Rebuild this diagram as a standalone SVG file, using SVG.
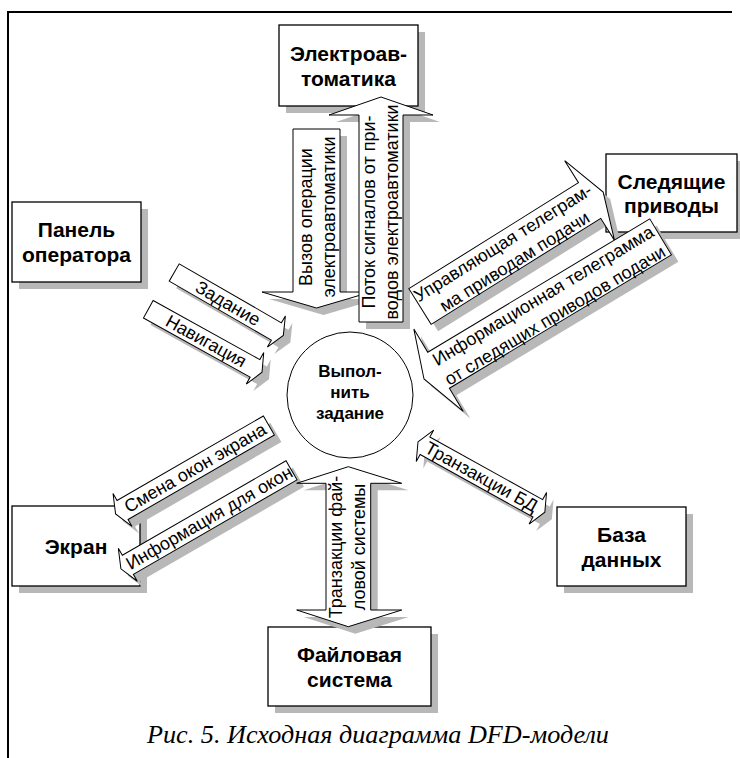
<svg xmlns="http://www.w3.org/2000/svg" width="740" height="758" viewBox="0 0 740 758">
<style>
.box{fill:#fff;stroke:#000;stroke-width:1.3}
.sh{fill:#b8b8b8;stroke:none}
.ar{fill:#fff;stroke:#000;stroke-width:1}
.frame{fill:none;stroke:#000;stroke-width:2}
.nt{font-family:"Liberation Sans",Arial,sans-serif;font-weight:bold;font-size:21px;text-anchor:middle;fill:#000}
.ct{font-family:"Liberation Sans",Arial,sans-serif;font-weight:bold;font-size:17px;text-anchor:middle;fill:#000}
.at{font-family:"Liberation Sans",Arial,sans-serif;font-size:18px;text-anchor:middle;fill:#000}
.cap{font-family:"Liberation Serif","Times New Roman",serif;font-style:italic;font-size:26.2px;text-anchor:middle;fill:#000}
</style>
<rect width="740" height="758" fill="#fff"/>
<path class="frame" d="M8,758 V12 H732"/>

<g id="n-elektro">
<rect class="sh" x="286" y="32" width="139" height="81"/>
<rect class="box" x="279" y="25" width="139" height="81"/>
<text class="nt" x="348.5" y="60.5">Электроав-</text>
<text class="nt" x="348.5" y="85.5">томатика</text>
</g>
<g id="n-sled">
<rect class="sh" x="613" y="161" width="131" height="78"/>
<rect class="box" x="606" y="154" width="131" height="78"/>
<text class="nt" x="671.5" y="189">Следящие</text>
<text class="nt" x="671.5" y="213">приводы</text>
</g>
<g id="n-panel">
<rect class="sh" x="19" y="209" width="129" height="80"/>
<rect class="box" x="12" y="202" width="129" height="80"/>
<text class="nt" x="76.5" y="237">Панель</text>
<text class="nt" x="76.5" y="262">оператора</text>
</g>
<g id="n-ekran">
<rect class="sh" x="19" y="513" width="128" height="80"/>
<rect class="box" x="12" y="506" width="128" height="80"/>
<text class="nt" x="76" y="553.5">Экран</text>
</g>
<g id="n-file">
<rect class="sh" x="275" y="634" width="163" height="79"/>
<rect class="box" x="268" y="627" width="163" height="79"/>
<text class="nt" x="349.5" y="661.5">Файловая</text>
<text class="nt" x="349.5" y="686.5">система</text>
</g>
<g id="n-db">
<rect class="sh" x="564" y="514" width="129" height="79"/>
<rect class="box" x="557" y="507" width="129" height="79"/>
<text class="nt" x="621.5" y="541.5">База</text>
<text class="nt" x="621.5" y="566.5">данных</text>
</g>
<g id="n-process">
<circle cx="350" cy="395" r="63" fill="#fff" stroke="#000" stroke-width="1"/>
<text class="ct" x="350" y="377">Выпол-</text>
<text class="ct" x="350" y="398">нить</text>
<text class="ct" x="350" y="419">задание</text>
</g>

<g id="connectors">
<g id="f-vyzov">
<polygon class="sh" transform="translate(7,7)" points="293,129 340,129 340,292 371,292 316.5,308 262,292 293,292"/>
<polygon class="ar" points="293,129 340,129 340,292 371,292 316.5,308 262,292 293,292"/>
<g transform="translate(316.5,217) rotate(-90)">
<text class="at" x="0" y="-4.5">Вызов операции</text>
<text class="at" x="0" y="18.5">электроавтоматики</text>
</g>
</g>
<g id="f-potok">
<polygon class="sh" transform="translate(7,7)" points="359,322 359,115 329,115 381,97 433,115 403,115 403,322"/>
<polygon class="ar" points="359,322 359,115 329,115 381,97 433,115 403,115 403,322"/>
<g transform="translate(381,212) rotate(-90)">
<text class="at" x="0" y="-6">Поток сигналов от при-</text>
<text class="at" x="0" y="17">водов электроавтоматики</text>
</g>
</g>
<g id="f-upr">
<g transform="translate(427,313.5) rotate(-32)"><polygon class="sh" points="0,-21 200,-21 200,-47 216,0 200,47 200,21 0,21"/></g>
<g transform="translate(420,306.5) rotate(-32)">
<polygon class="ar" points="0,-21 200,-21 200,-47 216,0 200,47 200,21 0,21"/>
<text class="at" x="104" y="-4">Управляющая телеграм-</text>
<text class="at" x="104" y="18">ма приводам подачи</text>
</g>
</g>
<g id="f-inf">
<g transform="translate(431,386) rotate(-31)"><polygon class="sh" points="0,0 17,-48 17,-21 276,-21 276,21 17,21 17,48"/></g>
<g transform="translate(424,379) rotate(-31)">
<polygon class="ar" points="0,0 17,-48 17,-21 276,-21 276,21 17,21 17,48"/>
<text class="at" x="145" y="-4">Информационная телеграмма</text>
<text class="at" x="145" y="19">от следящих приводов подачи</text>
</g>
</g>
<g id="f-zad">
<g transform="translate(181.2,279.5) rotate(30)"><polygon class="sh" points="0,-10 118,-10 118,-18 126,0 118,18 118,10 0,10"/></g>
<g transform="translate(174.2,272.5) rotate(30)">
<polygon class="ar" points="0,-10 118,-10 118,-18 126,0 118,18 118,10 0,10"/>
<text class="at" x="62" y="6">Задание</text>
</g>
</g>
<g id="f-nav">
<g transform="translate(155.3,316.2) rotate(29)"><polygon class="sh" points="0,-10 122,-10 122,-18 130,0 122,18 122,10 0,10"/></g>
<g transform="translate(148.3,309.2) rotate(29)">
<polygon class="ar" points="0,-10 122,-10 122,-18 130,0 122,18 122,10 0,10"/>
<text class="at" x="66" y="6">Навигация</text>
</g>
</g>
<g id="f-smena">
<g transform="translate(122.6,521) rotate(-30)"><polygon class="sh" points="0,0 8,-19 8,-11 177,-11 177,11 8,11 8,19"/></g>
<g transform="translate(115.6,514) rotate(-30)">
<polygon class="ar" points="0,0 8,-19 8,-11 177,-11 177,11 8,11 8,19"/>
<text class="at" x="92" y="6">Смена окон экрана</text>
</g>
</g>
<g id="f-infokon">
<g transform="translate(127.9,575.8) rotate(-30)"><polygon class="sh" points="0,0 8,-19 8,-11 197,-11 197,11 8,11 8,19"/></g>
<g transform="translate(120.9,568.8) rotate(-30)">
<polygon class="ar" points="0,0 8,-19 8,-11 197,-11 197,11 8,11 8,19"/>
<text class="at" x="102" y="6">Информация для окон</text>
</g>
</g>
<g id="f-fs">
<polygon class="sh" transform="translate(7,7)" points="348.3,466.7 401.7,483.3 370.7,483.3 370.7,610 401.7,610 348.3,626.7 296.7,610 326,610 326,483.3 296.7,483.3"/>
<polygon class="ar" points="348.3,466.7 401.7,483.3 370.7,483.3 370.7,610 401.7,610 348.3,626.7 296.7,610 326,610 326,483.3 296.7,483.3"/>
<g transform="translate(348.3,547) rotate(-90)">
<text class="at" x="0" y="-6.5">Транзакции фай-</text>
<text class="at" x="0" y="16.5">ловой системы</text>
</g>
</g>
<g id="f-db">
<g transform="translate(425,448.9) rotate(29)"><polygon class="sh" points="0,0 8,-18 8,-10 137,-10 137,-18 145,0 137,18 137,10 8,10 8,18"/></g>
<g transform="translate(418,441.9) rotate(29)">
<polygon class="ar" points="0,0 8,-18 8,-10 137,-10 137,-18 145,0 137,18 137,10 8,10 8,18"/>
<text class="at" x="72.5" y="6">Транзакции БД</text>
</g>
</g>
</g>

<text class="cap" x="378" y="743">Рис. 5. Исходная диаграмма DFD-модели</text>
</svg>
